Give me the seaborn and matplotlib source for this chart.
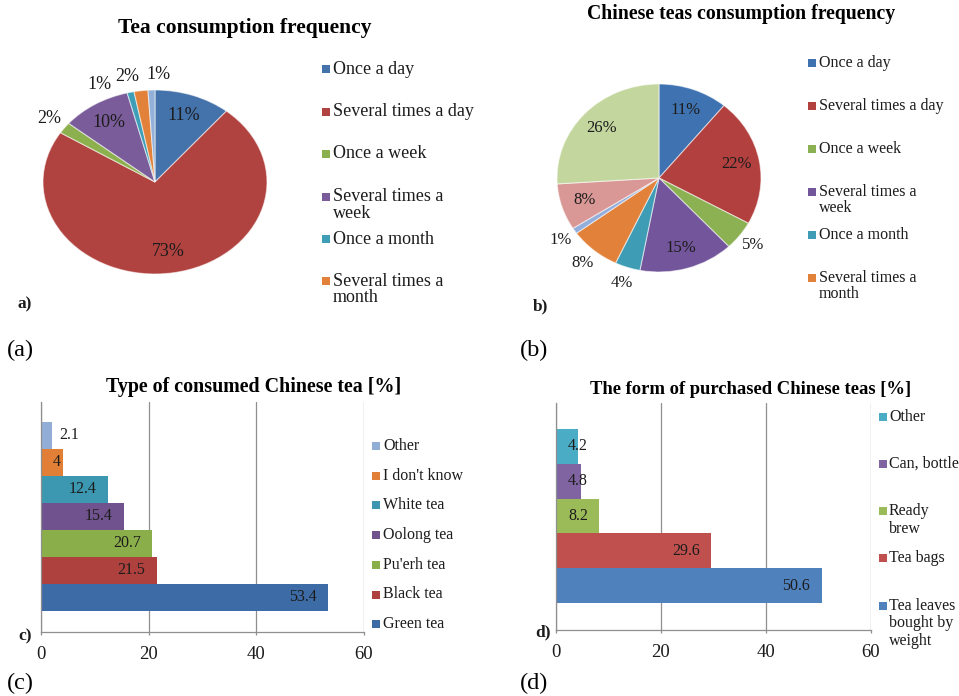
import numpy as np
import pandas as pd
import matplotlib
matplotlib.use("Agg")
import matplotlib.pyplot as plt
import seaborn as sns
from matplotlib.patches import Rectangle

sns.set_theme(style="white")
plt.rcParams["font.family"] = ["Liberation Serif", "DejaVu Serif"]

# ---------------- data ----------------
freq_legend = ["Once a day", "Several times a day", "Once a week",
               "Several times a\nweek", "Once a month", "Several times a\nmonth"]

tea_freq_share = [11, 73, 2, 10, 1, 2, 1]
chinese_freq_share = [11, 22, 5, 15, 4, 8, 1, 8, 26]

tea_types = ["Other", "I don't know", "White tea", "Oolong tea",
             "Pu'erh tea", "Black tea", "Green tea"]
tea_type_pct = [2.1, 4, 12.4, 15.4, 20.7, 21.5, 53.4]

forms = ["Other", "Can, bottle", "Ready\nbrew", "Tea bags",
         "Tea leaves\nbought by\nweight"]
form_pct = [4.2, 4.8, 8.2, 29.6, 50.6]

x_ticks = [0, 20, 40, 60]

# ---------------- colours ----------------
pie_a_colors = ["#4472AA", "#B0423F", "#8DB04F", "#7A5C9A", "#3E9EB8", "#E2813A", "#93B0D8"]
pie_b_colors = ["#3F72B0", "#B2403E", "#8BB152", "#72559B", "#3E9CB5", "#E2813A",
                "#93AEDB", "#D99896", "#C3D69D"]
bar_c_colors = ["#93AED6", "#E07F35", "#3C97B0", "#70528F", "#8AAE49", "#AE413E", "#3D6BA5"]
bar_d_colors = ["#4BACC6", "#8064A2", "#9BBB59", "#C0504D", "#4F81BD"]

TEXT = "#1c1c1c"
AXIS_GRAY = "#8f8f8f"

W, H = 959, 696
fig = plt.figure(figsize=(W / 100, H / 100), dpi=100)
fig.patch.set_facecolor("white")


def px_axes(left, top, width, height):
    return fig.add_axes([left / W, 1 - (top + height) / H, width / W, height / H])


def fig_text(x, y, s, **kw):
    fig.text(x / W, 1 - y / H, s, **kw)


def px_legend(x_marker, x_text, y0, step, labels, colors, size=11.5, line_step=16.5):
    for i, (lab, col) in enumerate(zip(labels, colors)):
        y = y0 + i * step
        fig.add_artist(Rectangle((x_marker / W, 1 - (y + 4) / H), 8 / W, 8 / H,
                                 transform=fig.transFigure, color=col, lw=0))
        for k, line in enumerate(lab.split("\n")):
            fig_text(x_text, y + k * line_step, line, ha="left", va="center",
                     fontsize=size, color=TEXT)


def draw_pie(ax, shares, colors, outside, nudges, r_in=0.77, r_out=1.17, size=12):
    wedges, _ = ax.pie(shares, colors=colors, startangle=90, counterclock=False,
                       wedgeprops=dict(edgecolor=(1, 1, 1, 0.55), linewidth=0.8))
    ax.set_aspect("auto")
    ax.set_xlim(-1.35, 1.35)
    ax.set_ylim(-1.35, 1.35)
    ax.axis("off")
    for w, s, out, nd in zip(wedges, shares, outside, nudges):
        ang = np.deg2rad((w.theta1 + w.theta2) / 2 + nd)
        r = r_out if out else r_in
        ax.text(r * np.cos(ang), r * np.sin(ang), f"{s}%", ha="center", va="center",
                fontsize=size, color=TEXT)


# ---------------- (a) tea consumption frequency ----------------
ax_a = px_axes(155 - 1.35 * 112, 182 - 1.35 * 92, 2.7 * 112, 2.7 * 92)
draw_pie(ax_a, tea_freq_share, pie_a_colors,
         outside=[False, False, True, False, True, True, True],
         nudges=[0, 0, 0, 0, 12.5, 5, -3.3], size=13)
fig_text(245, 28, "Tea consumption frequency", ha="center", va="center",
         fontsize=15.5, fontweight="bold", color="black")
px_legend(322, 333, 69, 42.5, freq_legend, pie_a_colors[:6], size=13)
fig_text(18, 304, "a)", ha="left", va="center", fontsize=12.5, fontweight="bold", color=TEXT)
fig_text(7, 350, "(a)", ha="left", va="center", fontsize=17.5, color="black")

# ---------------- (b) Chinese teas consumption frequency ----------------
ax_b = px_axes(659 - 1.35 * 102, 178 - 1.35 * 94, 2.7 * 102, 2.7 * 94)
draw_pie(ax_b, chinese_freq_share, pie_b_colors,
         outside=[False, False, True, False, True, True, True, False, False],
         nudges=[0] * 9)
fig_text(741, 14, "Chinese teas consumption frequency", ha="center", va="center",
         fontsize=14.2, fontweight="bold", color="black")
px_legend(808, 819, 63.3, 42.9, freq_legend, pie_b_colors[:6])
fig_text(533, 306, "b)", ha="left", va="center", fontsize=12.5, fontweight="bold", color=TEXT)
fig_text(520, 350, "(b)", ha="left", va="center", fontsize=17.5, color="black")


# ---------------- horizontal bar panels ----------------
def bar_panel(ax, cats, vals, colors, ylim):
    df = pd.DataFrame({"cat": cats, "val": vals})
    sns.barplot(data=df, x="val", y="cat", hue="cat", palette=colors, orient="h",
                width=1.0, saturation=1, legend=False, linewidth=0, ax=ax)
    ax.set_xlim(0, 60)
    ax.set_ylim(*ylim)
    ax.set_xticks(x_ticks)
    ax.set_yticks([])
    ax.set_xlabel("")
    ax.set_ylabel("")
    ax.set_facecolor("none")
    ax.grid(axis="x", color=AXIS_GRAY, linewidth=0.9)
    ax.set_axisbelow(True)
    for side in ("top", "right"):
        ax.spines[side].set_visible(False)
    for side in ("left", "bottom"):
        ax.spines[side].set_color(AXIS_GRAY)
        ax.spines[side].set_linewidth(0.9)
    ax.tick_params(axis="x", direction="out", length=2.5, width=0.9, color=AXIS_GRAY,
                   pad=7.5, labelsize=13.5, labelcolor=TEXT, bottom=True)


ax_c = px_axes(41, 402, 323, 230)
bar_panel(ax_c, tea_types, tea_type_pct, bar_c_colors, (6.5 + 0.78, -0.5 - 0.74))
ax_d = px_axes(556, 403, 315, 227)
bar_panel(ax_d, forms, form_pct, bar_d_colors, (4.5 + 0.78, -0.5 - 0.75))

# value labels: inside the bar end; start-aligned on short bars; outside on tiny ones
fig.canvas.draw()
renderer = fig.canvas.get_renderer()
PT = 0.72
for ax in (ax_c, ax_d):
    for p in ax.patches:
        w = p.get_width()
        if w <= 0:
            continue
        yc = p.get_y() + p.get_height() / 2
        lab = f"{w:g}"
        t = ax.annotate(lab, xy=(w, yc), xytext=(-11.5 * PT, 0), textcoords="offset points",
                        ha="right", va="center", fontsize=11.5, color=TEXT)
        bb = t.get_window_extent(renderer)
        base_px = ax.transData.transform((0, yc))[0]
        end_px = ax.transData.transform((w, yc))[0]
        if bb.x0 < base_px + 12:
            t.remove()
            if base_px + 12 < end_px:
                ax.annotate(lab, xy=(0, yc), xytext=(12 * PT, 0), textcoords="offset points",
                            ha="left", va="center", fontsize=11.5, color=TEXT)
            else:
                ax.annotate(lab, xy=(w, yc), xytext=(7 * PT, 0), textcoords="offset points",
                            ha="left", va="center", fontsize=11.5, color=TEXT)

fig_text(254, 387, "Type of consumed Chinese tea [%]", ha="center", va="center",
         fontsize=14.4, fontweight="bold", color="black")
px_legend(372, 383, 446, 29.7, tea_types, bar_c_colors)
fig_text(18, 636, "c)", ha="left", va="center", fontsize=12.5, fontweight="bold", color=TEXT)
fig_text(7, 683, "(c)", ha="left", va="center", fontsize=17.5, color="black")

fig_text(751, 389, "The form of purchased Chinese teas [%]", ha="center", va="center",
         fontsize=13.4, fontweight="bold", color="black")
px_legend(879, 889, 416.7, 47.2, forms, bar_d_colors, line_step=17.7)
fig_text(535, 632, "d)", ha="left", va="center", fontsize=12.5, fontweight="bold", color=TEXT)
fig_text(520, 683, "(d)", ha="left", va="center", fontsize=17.5, color="black")

fig.savefig("out.png", dpi=100, facecolor="white")
